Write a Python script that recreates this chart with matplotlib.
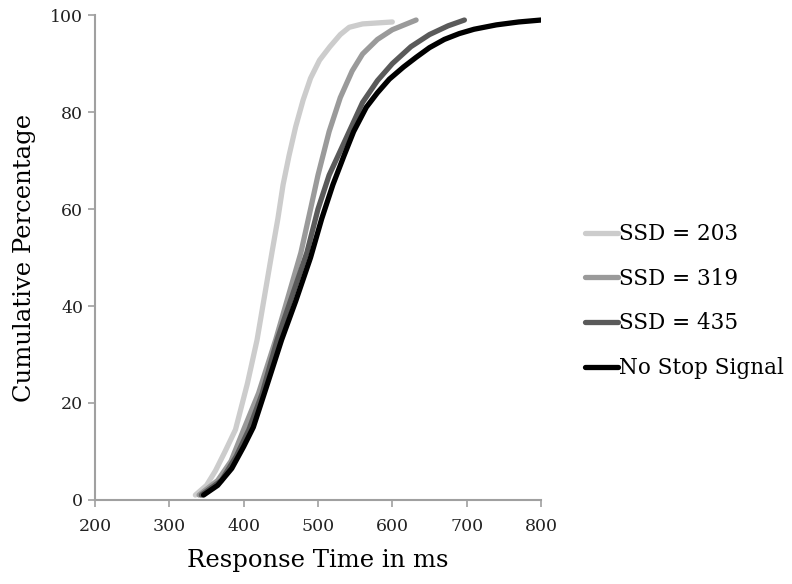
import matplotlib.pyplot as plt

# response times (ms) and cumulative percentages
ssd203_x = [335, 350, 362, 375, 389, 405, 418, 428, 438, 446, 453, 461, 470, 480, 490, 502, 516, 530, 542, 560, 600]
ssd203_y = [1, 3, 6, 10, 14.5, 24, 33, 42, 51, 58, 65, 71, 77, 82.5, 87, 90.7, 93.5, 96, 97.5, 98.2, 98.6]

ssd319_x = [340, 365, 383, 400, 420, 443, 460, 477, 490, 500, 515, 530, 546, 560, 580, 600, 632]
ssd319_y = [1, 4, 8, 14.5, 22, 33, 42, 51, 60, 67, 76, 83, 88.5, 92, 95, 97, 99]

ssd435_x = [343, 370, 390, 407, 425, 445, 465, 485, 500, 515, 530, 545, 560, 580, 600, 625, 650, 675, 697]
ssd435_y = [1, 4, 9, 14.5, 22, 33, 42, 51, 60, 67, 72, 77, 82, 86.5, 90, 93.5, 96, 97.8, 99]

nostop_x = [346, 365, 384, 400, 413, 430, 451, 470, 490, 505, 520, 535, 548, 565, 580, 596, 615, 632, 650, 670, 690, 710, 740, 770, 800]
nostop_y = [1, 3, 6.5, 11, 15, 23, 33, 41, 50, 58, 65, 71, 76, 81, 84, 86.8, 89.3, 91.3, 93.3, 95, 96.2, 97.1, 98, 98.6, 99]

labels = ['SSD = 203', 'SSD = 319', 'SSD = 435', 'No Stop Signal']
colors = ['#cccccc', '#9a9a9a', '#5a5a5a', '#000000']

plt.rcParams['font.family'] = ['DejaVu Serif']

fig = plt.figure(figsize=(7.92, 5.84), dpi=100)
ax = fig.add_axes([0.12, 0.144, 0.563, 0.83])

series = [(ssd203_x, ssd203_y), (ssd319_x, ssd319_y), (ssd435_x, ssd435_y), (nostop_x, nostop_y)]
for (xs, ys), lab, col in zip(series, labels, colors):
    ax.plot(xs, ys, color=col, linewidth=3.8, label=lab, solid_capstyle='round')

ax.set_xlim(200, 800)
ax.set_ylim(0, 100)
ax.set_xticks(range(200, 801, 100))
ax.set_yticks(range(0, 101, 20))
for side in ['top', 'right']:
    ax.spines[side].set_visible(False)
for side in ['left', 'bottom']:
    ax.spines[side].set_color('#a0a0a0')
    ax.spines[side].set_linewidth(1.5)
ax.tick_params(direction='out', length=5, color='#a0a0a0', width=1.2, labelsize=12.5, colors='#222222')
ax.tick_params(axis='x', pad=8)
ax.set_xlabel('Response Time in ms', fontsize=17.5, labelpad=10)
ax.set_ylabel('Cumulative Percentage', fontsize=17.5, labelpad=10)

ax.legend(loc='center left', bbox_to_anchor=(1.056, 0.41), frameon=False, fontsize=15.5,
          handlelength=1.5, handletextpad=0.05, labelspacing=1.05)

plt.savefig('out.png', dpi=100)
